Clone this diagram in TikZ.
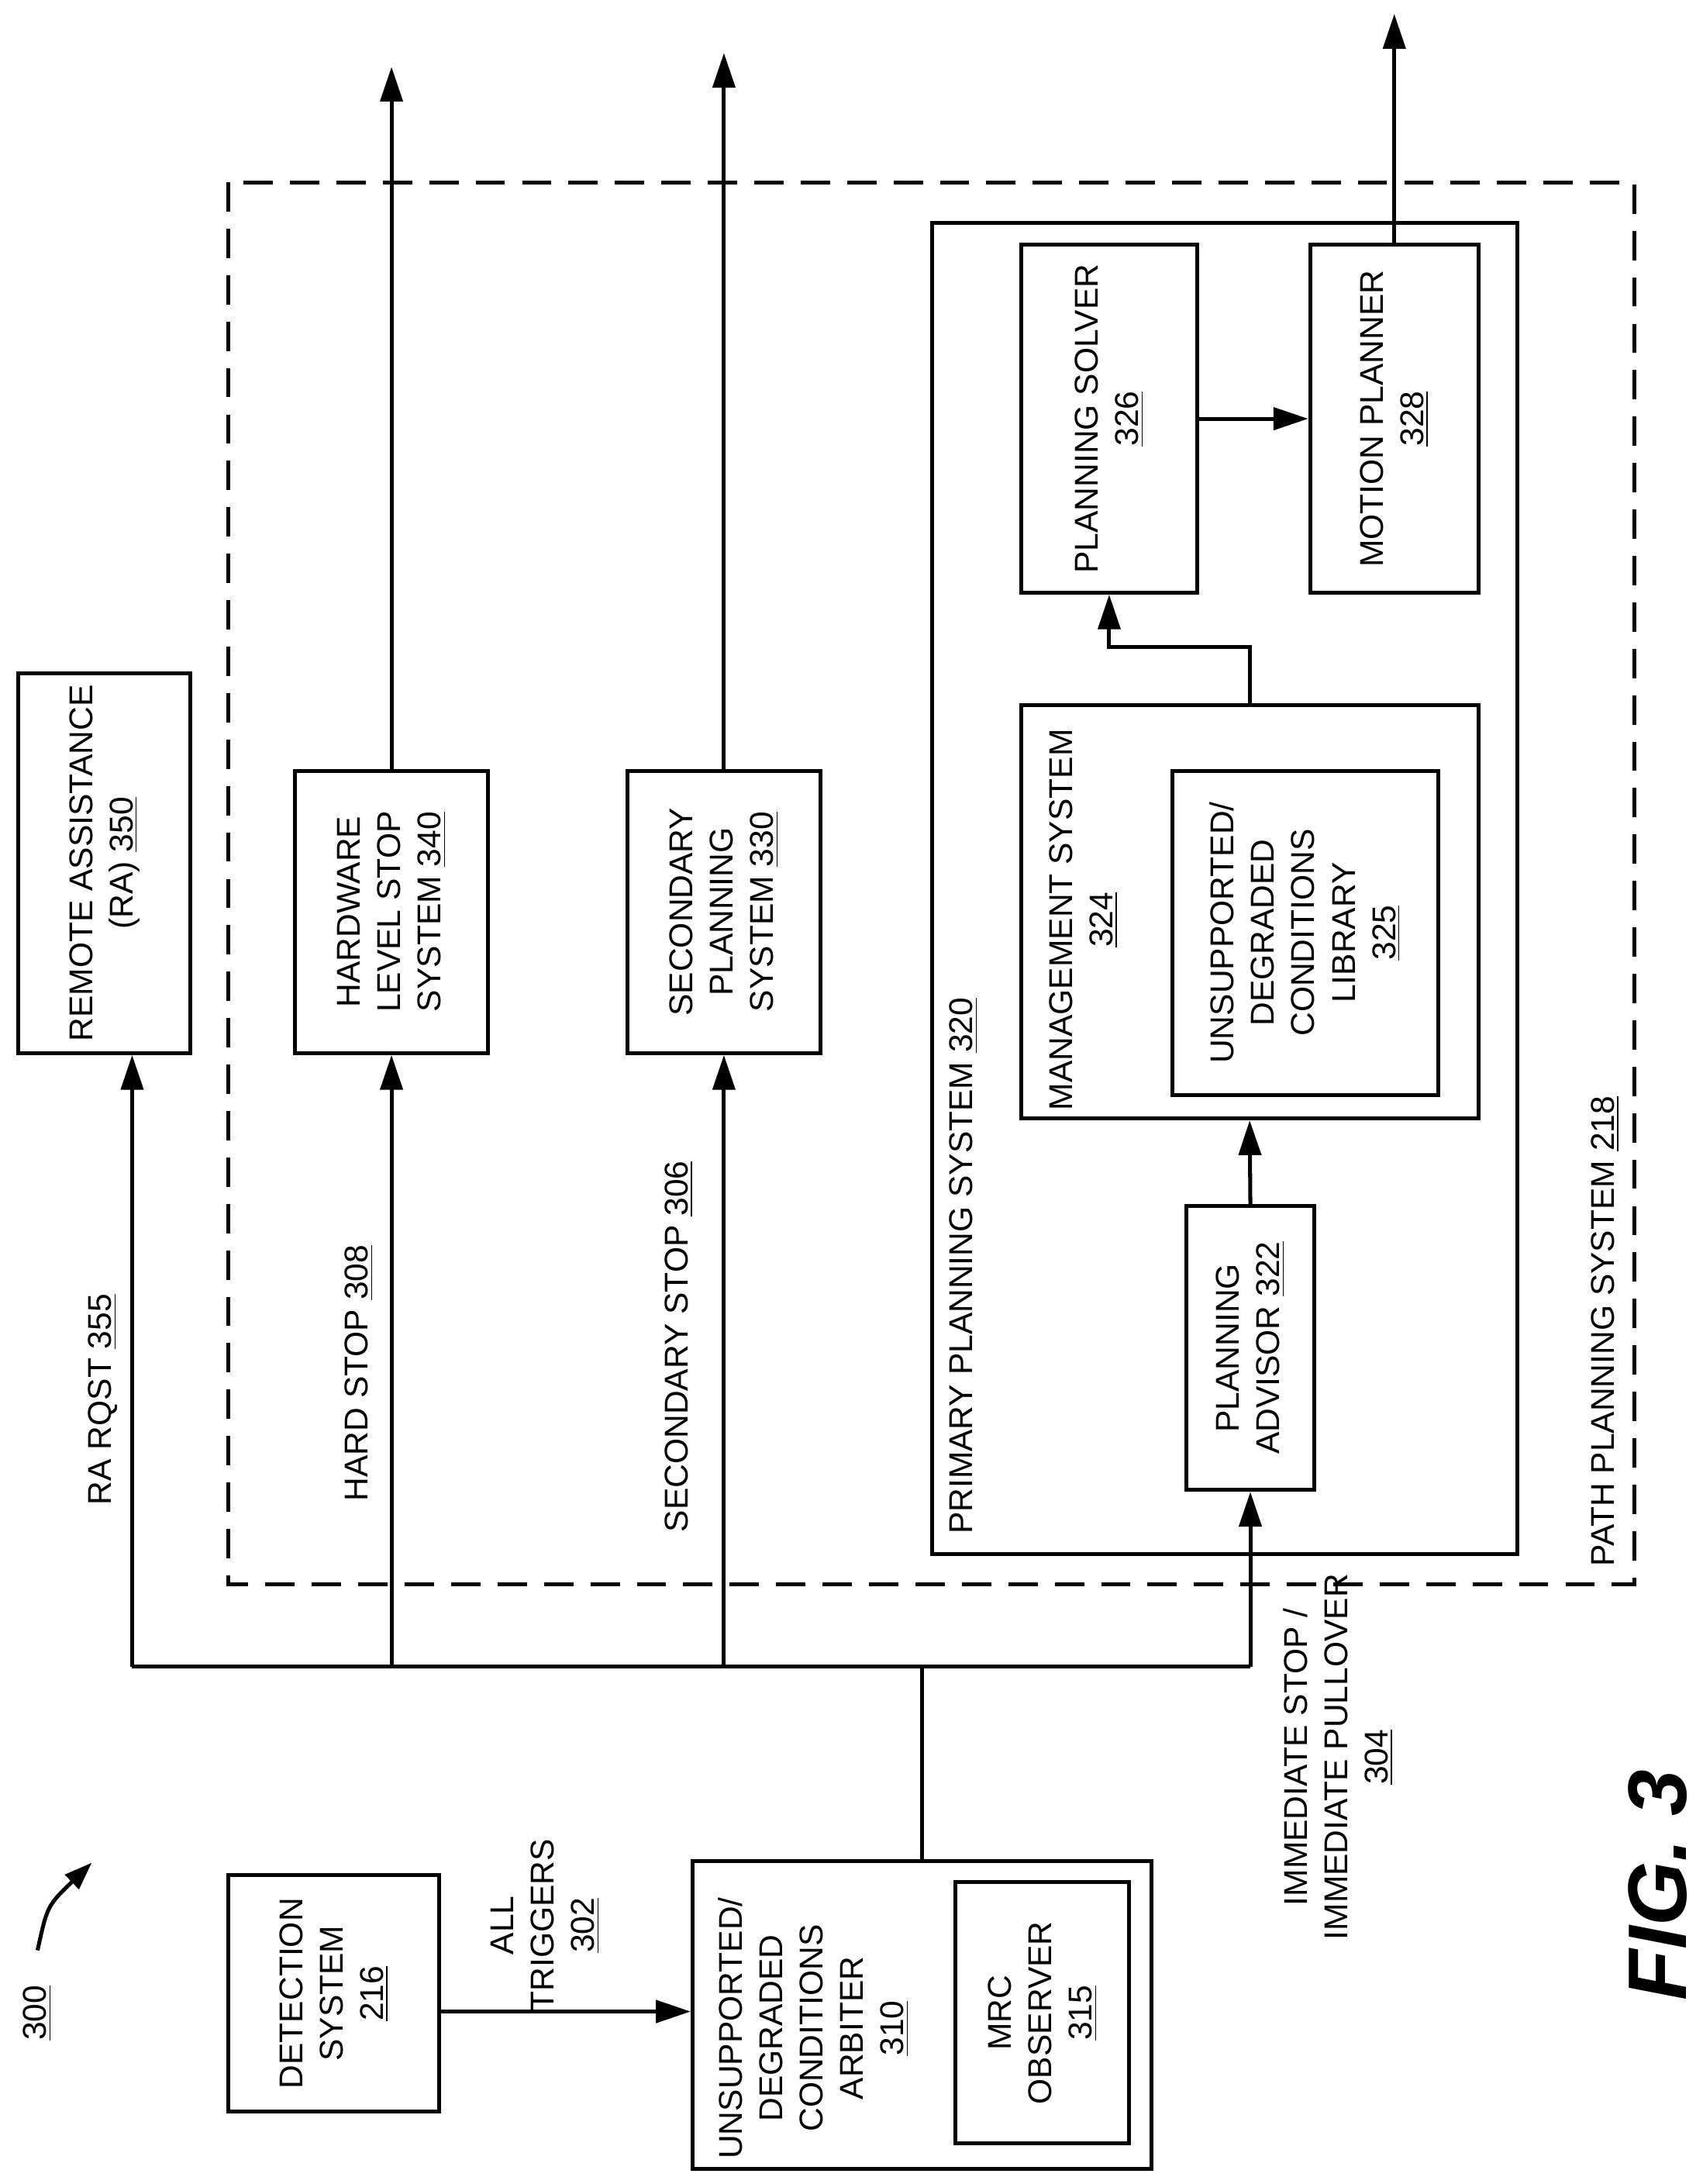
\documentclass[tikz,border=0pt]{standalone}
\usepackage{fontspec}
\setmainfont{Liberation Sans}
\usetikzlibrary{arrows.meta,calc}

\tikzset{
  box/.style={draw, line width=1.6pt, rotate=90, align=center, inner sep=2pt},
  lbl/.style={rotate=90, align=center, inner sep=1pt},
  conn/.style={line width=1.6pt},
  arr/.style={line width=1.6pt, -{Triangle[length=0.5cm,width=0.32cm]}}
}

\begin{document}
\begin{tikzpicture}[x=0.02cm, y=-0.02cm, font=\fontsize{13.5}{16.5}\selectfont]
  \useasboundingbox (0,0) rectangle (1224,1570);
%
  \node[box, minimum width=5.46cm, minimum height=2.48cm] at (75,620.5) (RA) %
       {REMOTE ASSISTANCE\\(RA) \underline{350}};
  \node[box, minimum width=4.06cm, minimum height=2.78cm] at (281.5,655.5) (HardStop) %
       {HARDWARE\\LEVEL STOP\\SYSTEM \underline{340}};
  \node[box, minimum width=4.06cm, minimum height=2.78cm] at (520.5,655.5) (SecPlan) %
       {SECONDARY\\PLANNING\\SYSTEM \underline{330}};
%
  \draw[line width=1.6pt, dash pattern=on 12pt off 7pt] (164,131) rectangle (1175,1139);
  \node[lbl, anchor=west] at (1154,1128) (PathLbl) {PATH PLANNING SYSTEM \underline{218}};
  \draw[line width=1.6pt] (670,160) rectangle (1091,1117);
  \node[lbl, anchor=west] at (693,1105) (PrimLbl) {PRIMARY PLANNING SYSTEM \underline{320}};
%
  \node[box, minimum width=5cm, minimum height=2.54cm] at (797.5,301) (Solver) %
       {PLANNING SOLVER\\\underline{326}};
  \node[box, minimum width=5cm, minimum height=2.42cm] at (1002.5,301) (Motion) %
       {MOTION PLANNER\\\underline{328}};
  \node[box, minimum width=5.94cm, minimum height=6.58cm] at (898.5,655.5) (Mgmt) {};
  \node[lbl, anchor=east] at (779,522) (MgmtLbl) {MANAGEMENT SYSTEM\\\underline{324}};
  \node[box, minimum width=4.66cm, minimum height=3.82cm] at (938.5,670.5) (Library) %
       {UNSUPPORTED/\\DEGRADED\\CONDITIONS\\LIBRARY\\\underline{325}};
  \node[box, minimum width=4.08cm, minimum height=1.84cm] at (899,969) (Advisor) %
       {PLANNING\\ADVISOR \underline{322}};
%
  \node[box, minimum width=3.4cm, minimum height=3.04cm] at (240,1433) (Detect) %
       {DETECTION\\SYSTEM\\\underline{216}};
  \node[box, minimum width=4.42cm, minimum height=6.6cm] at (663,1448.5) (Arbiter) {};
  \node[lbl] at (585,1458) (ArbLbl) {UNSUPPORTED/\\DEGRADED\\CONDITIONS\\ARBITER\\\underline{310}};
  \node[box, minimum width=3.76cm, minimum height=2.5cm] at (749.5,1447) (MRC) %
       {MRC\\OBSERVER\\\underline{315}};
%
  \coordinate (Bus) at (663,1198);
  \coordinate (BusL) at (95,1198);
  \coordinate (BusR) at (899,1198);
  \coordinate (Trig) at (0,1446);
  \draw[conn] (Arbiter.east) -- (Bus);
  \draw[conn] (BusL) -- (BusR);
  \draw[arr] (BusL) -- (BusL |- RA.west);
  \draw[arr] (281.5,1198) -- (HardStop.west);
  \draw[arr] (520.5,1198) -- (SecPlan.west);
  \draw[arr] (BusR) -- (Advisor.west);
  \draw[arr] (Detect.south |- Trig) -- (Arbiter.north |- Trig);
  \draw[arr] (HardStop.east) -- (281.5,48);
  \draw[arr] (SecPlan.east) -- (520.5,38);
  \draw[arr] (Motion.east) -- (1002.5,10);
  \draw[arr] (Solver.south) -- (Motion.north);
  \draw[arr] (Advisor.east) -- (Mgmt.west);
  \draw[arr] (Mgmt.east) -- (898.5,465) -- (797.5,465) -- (Solver.west);
%
  \node[lbl] at (74,1006) (RaRqst) {RA RQST \underline{355}};
  \node[lbl] at (258,987) (HardLbl) {HARD STOP \underline{308}};
  \node[lbl] at (488,968) (SecLbl) {SECONDARY STOP \underline{306}};
  \node[lbl] at (392,1384) (TrigLbl) {ALL\\TRIGGERS\\\underline{302}};
  \node[lbl] at (962,1263) (ImmLbl) {IMMEDIATE STOP /\\IMMEDIATE PULLOVER\\\underline{304}};
%
  \node[lbl] at (27,1447) (FigNum) {\underline{300}};
  \draw[line width=1.6pt, -{Triangle[length=0.4cm,width=0.28cm]}] %
    (27,1402) .. controls (34,1370) .. (66,1339);
  \node[lbl, font=\fontsize{34}{40}\selectfont\bfseries\itshape] at (1192,1355) (Fig) {FIG. 3};
\end{tikzpicture}
\end{document}
